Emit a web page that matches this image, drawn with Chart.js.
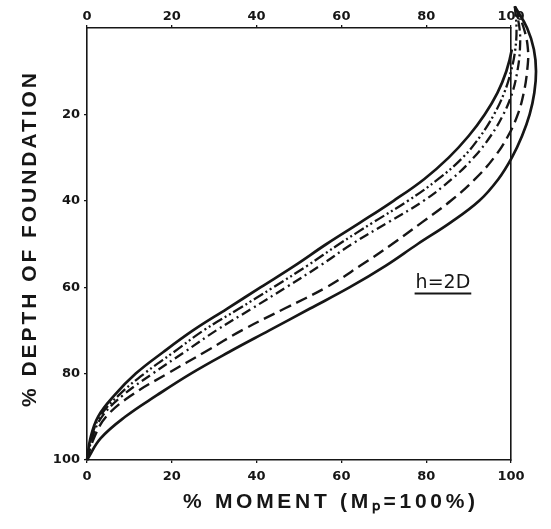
<!DOCTYPE html>
<html><head><meta charset="utf-8">
<script src="https://cdn.jsdelivr.net/npm/chart.js@4.4.1/dist/chart.umd.min.js"></script>
<style>html,body{margin:0;padding:0;background:#fff;}#wrap{width:551px;height:529px;}</style>
</head><body><div id="wrap"><canvas id="c" width="551" height="529"></canvas></div>
<script>
// ---- data ----
const depthLevels   = [100, 95, 90, 85, 80, 75, 70, 65, 60, 55, 50, 45, 40, 35, 30, 25, 20, 15, 10, 5, 0, -5];
const curveSolidA   = [0, 0.8, 2.6, 6.5, 11.5, 18, 25, 33, 41, 49, 56.5, 64.5, 72.3, 79.5, 85.3, 90, 93.8, 96.8, 98.9, 100.2, 100.8, 100.9];
const curveDashDot2 = [0, 1.0, 3.0, 7.5, 13.5, 20.5, 27.5, 35.8, 44, 52, 59.5, 67.5, 75.7, 82.8, 88.6, 92.8, 96, 98.4, 100, 101, 101.3, 100.9];
const curveDashDot  = [0, 1.2, 3.5, 8.5, 15.5, 23, 30.5, 38.8, 47, 55, 62.5, 71, 79.4, 86, 91.2, 95.2, 98.2, 100.3, 101.5, 102.1, 102, 100.9];
const curveDashed   = [0, 1.6, 4.5, 10.5, 19, 27.8, 36.5, 46.5, 56.5, 64.5, 72, 79, 85.8, 91.5, 96, 99.3, 101.6, 103, 103.8, 104, 103, 100.9];
const curveSolidB   = [0, 3.2, 9, 16.5, 24.5, 33.5, 43, 52.5, 62, 70.5, 78, 85.8, 92.5, 97, 100.2, 102.6, 104.4, 105.5, 105.9, 105.4, 103.8, 100.9];
const xTickValues   = [0, 20, 40, 60, 80, 100];
const yTickValues   = [20, 40, 60, 80, 100];
const xTitleText    = '% MOMENT (Mₚ=100%)';
const yTitleText    = '% DEPTH OF FOUNDATION';
const curveNote     = {x: 77.5, y: 60.3, text: 'h=2D'};

const INK = '#161616';
function pts(arr){ return arr.map((m,i)=>({x:m, y:depthLevels[i]})); }
function ds(label, arr, dash, w){
  return {label, data: pts(arr), showLine:true, borderColor:INK, borderWidth:w,
    borderDash:dash, pointRadius:0, tension:0.4, clip:false, fill:false};
}

function spacedText(ctx, text, cx, cy, targetW){
  ctx.letterSpacing = '0px';
  const w = ctx.measureText(text).width;
  const sp = Math.max(0,(targetW - w)/(text.length-1));
  ctx.letterSpacing = sp.toFixed(2)+'px';
  ctx.fillText(text, cx + sp/2, cy);
}

const titlesPlugin = {
  id:'titles',
  afterDraw(chart){
    const ctx = chart.ctx, xs = chart.scales.x, ys = chart.scales.y;
    ctx.save();
    ctx.fillStyle = INK; ctx.textAlign = 'center'; ctx.textBaseline = 'middle';
    ctx.font = 'bold 21px "Liberation Sans"';
    ctx.translate(30, 240); ctx.rotate(-Math.PI/2);
    spacedText(ctx, yTitleText, 0, 0, 334);
    ctx.restore();

    ctx.save();
    ctx.fillStyle = INK; ctx.textAlign='center'; ctx.textBaseline='middle';
    ctx.font = 'bold 21px "Liberation Sans"';
    spacedText(ctx, xTitleText, 329, 502, 292);
    ctx.restore();

    ctx.save();
    ctx.fillStyle = INK; ctx.strokeStyle = INK;
    ctx.font = '19px "DejaVu Sans"'; ctx.textAlign='left'; ctx.textBaseline='alphabetic';
    const px = xs.getPixelForValue(curveNote.x), py = ys.getPixelForValue(curveNote.y);
    ctx.fillText(curveNote.text, px, py);
    const tw = ctx.measureText(curveNote.text).width;
    ctx.lineWidth = 2; ctx.beginPath(); ctx.moveTo(px-1, py+5); ctx.lineTo(px+tw+1, py+5); ctx.stroke();
    ctx.restore();
  }
};

const tickFont = {family:'"DejaVu Sans"', size:13, weight:'bold'};
const xAxisCommon = {
  type:'linear', min:0, max:100,
  afterBuildTicks: s => { s.ticks = xTickValues.map(v=>({value:v})); },
  ticks:{font:tickFont, color:INK, maxRotation:0},
  grid:{drawOnChartArea:false, drawTicks:true, tickLength:3, color:INK, lineWidth:1.3},
  border:{display:true, color:INK, width:1.6}
};

new Chart(document.getElementById('c'), {
  type:'scatter',
  data:{datasets:[
    ds('solid A', curveSolidA, [], 2.7),
    ds('dash-dot-dot', curveDashDot2, [11,3,2,3,2,3], 2.3),
    ds('dash-dot', curveDashDot, [10,4,2,4], 2.3),
    ds('dashed', curveDashed, [12,6], 2.4),
    ds('h=2D', curveSolidB, [], 2.7)
  ]},
  options:{
    responsive:false, animation:false, devicePixelRatio:1,
    layout:{padding:0},
    elements:{line:{capBezierPoints:false}},
    plugins:{legend:{display:false}, tooltip:{enabled:false}},
    scales:{
      x:{...xAxisCommon, position:'bottom', ticks:{...xAxisCommon.ticks, padding:6},
         afterFit: s => { s.height = 69; }},
      x2:{...xAxisCommon, position:'top', ticks:{...xAxisCommon.ticks, padding:1},
         afterFit: s => { s.height = 28; }},
      y:{type:'linear', position:'left', reverse:true, min:0, max:100,
         afterBuildTicks: s => { s.ticks = yTickValues.map(v=>({value:v})); },
         ticks:{font:tickFont, color:INK, padding:4},
         grid:{drawOnChartArea:false, drawTicks:true, tickLength:3, color:INK, lineWidth:1.3},
         border:{display:true, color:INK, width:1.6},
         afterFit: s => { s.width = 87; }},
      y2:{type:'linear', position:'right', min:0, max:100, reverse:true,
         ticks:{display:false}, grid:{display:false},
         border:{display:true, color:INK, width:1.6},
         afterFit: s => { s.width = 40; }}
    }
  },
  plugins:[titlesPlugin]
});
</script></body></html>
